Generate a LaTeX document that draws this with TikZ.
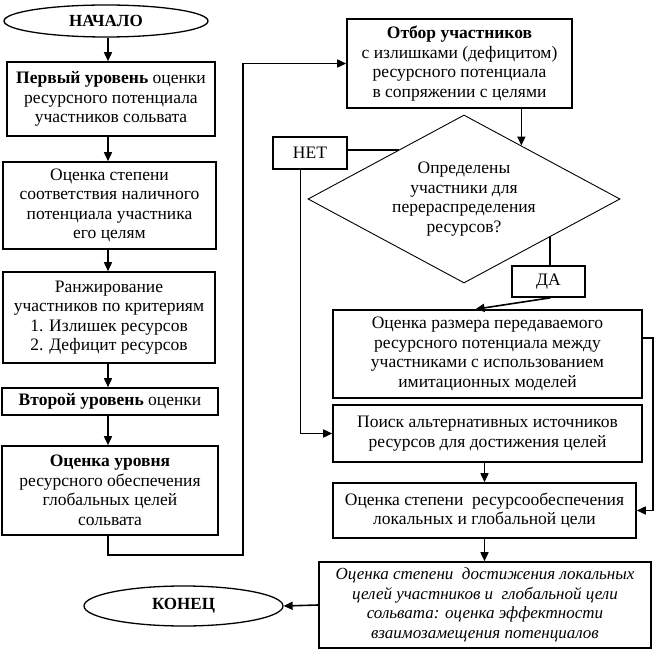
\documentclass[tikz,border=0pt]{standalone}
\usepackage{fontspec}
\setmainfont{Liberation Serif}
\usetikzlibrary{shapes.geometric,arrows.meta}
\begin{document}
\begin{tikzpicture}[x=1pt,y=-1pt,
  txt/.style={align=center, inner sep=0pt, font=\fontsize{17.5}{19.5}\selectfont},
  box/.style={txt, draw, line width=1.6pt},
  oval/.style={draw, ellipse, line width=1.3pt, inner sep=0pt, font=\fontsize{17}{20}\selectfont\bfseries},
  arr/.style={line width=1.6pt, -{Triangle[length=9pt,width=8pt]}},
  ln/.style={line width=1.6pt},
  thin/.style={line width=0.9pt}
]
\useasboundingbox (0,0) rectangle (654,652);

% left column
\node[oval, minimum width=204pt, minimum height=32pt] (start) at (106,21) {НАЧАЛО};
\node[box, minimum width=208pt, minimum height=74pt] (b1) at (111,99)
  {\textbf{Первый уровень} оценки\\ресурсного потенциала\\участников сольвата};
\node[box, minimum width=213pt, minimum height=87pt] (b2) at (109.5,205.5)
  {Оценка степени\\соответствия наличного\\потенциала участника\\его целям};
\node[box, minimum width=212pt, minimum height=91pt] (b3) at (109,317.5)
  {Ранжирование\\участников по критериям\\1. Излишек ресурсов\\2. Дефицит ресурсов};
\node[box, minimum width=216pt, minimum height=27pt] (b4) at (110,401.5)
  {\textbf{Второй уровень} оценки};
\node[box, minimum width=216pt, minimum height=89pt] (b5) at (110,490.5)
  {\textbf{Оценка уровня}\\ресурсного обеспечения\\глобальных целей\\сольвата};
\coordinate (lx) at (108,0);

% right column
\node[box, minimum width=225pt, minimum height=89pt] (otbor) at (459.5,63.5)
  {\textbf{Отбор участников}\\с излишками (дефицитом)\\ресурсного потенциала\\в сопряжении с целями};
\node[txt, draw, diamond, line width=0.9pt, minimum width=312pt, minimum height=168pt, shape aspect=1.86] (dia) at (464,199)
  {Определены\\участники для\\перераспределения\\ресурсов?};
\node[box, minimum width=74pt, minimum height=32pt] (net) at (310,153) {НЕТ};
\node[box, minimum width=73pt, minimum height=31pt] (da) at (548.5,281.5) {ДА};
\node[box, minimum width=309pt, minimum height=88pt] (razm) at (487.5,354)
  {Оценка размера передаваемого\\ресурсного потенциала между\\участниками с использованием\\имитационных моделей};
\node[box, minimum width=309pt, minimum height=57pt] (poisk) at (487.5,433.5)
  {Поиск альтернативных источников\\ресурсов для достижения целей};
\node[box, minimum width=303pt, minimum height=55pt] (resurs) at (484.5,510.5)
  {Оценка степени\ \ ресурсообеспечения\\локальных и глобальной цели};
\node[box, minimum width=332pt, minimum height=86pt, font=\fontsize{17}{19.5}\selectfont\itshape] (ital) at (485,605)
  {Оценка степени\ \ достижения локальных\\целей участников и\ \ глобальной цели\\сольвата: оценка эффектности\\взаимозамещения потенциалов};
\node[oval, minimum width=199pt, minimum height=40pt] (end) at (183.5,606) {КОНЕЦ};

% connectors left
\draw[arr] (start.south -| lx) -- (b1.north -| lx);
\draw[arr] (b1.south -| lx) -- (b2.north -| lx);
\draw[arr] (b2.south -| lx) -- (b3.north -| lx);
\draw[arr] (b3.south -| lx) -- (b4.north -| lx);
\draw[arr] (b4.south -| lx) -- (b5.north -| lx);
\coordinate (loopr) at (243,555);
\draw[arr] (b5.south -| lx) |- (loopr) |- (otbor.west);

% right connectors
\draw[arr] (dia.43.4 |- otbor.south) -- (dia.43.4);
\draw[ln] (dia.143 -| net.east) -- (dia.143);
\draw[thin] ([xshift=-10pt]net.south) -- ([xshift=-10pt]net.south |- poisk.west);
\draw[arr] ([xshift=-10pt]net.south |- poisk.west) -- (poisk.west);
\draw[ln] (dia.-24.8) -- (dia.-24.8 |- da.north);
\draw[arr] ([xshift=2pt]da.south) -- ([xshift=-12pt]razm.north);
\draw[arr] ([yshift=16pt]razm.east) -- ++(10,0) |- (resurs.east);
\draw[arr] (poisk.south -| resurs.north) -- (resurs.north);
\draw[arr] (resurs.south) -- (resurs.south |- ital.north);
\draw[arr] (ital.west) -- (end.east);
\end{tikzpicture}
\end{document}
